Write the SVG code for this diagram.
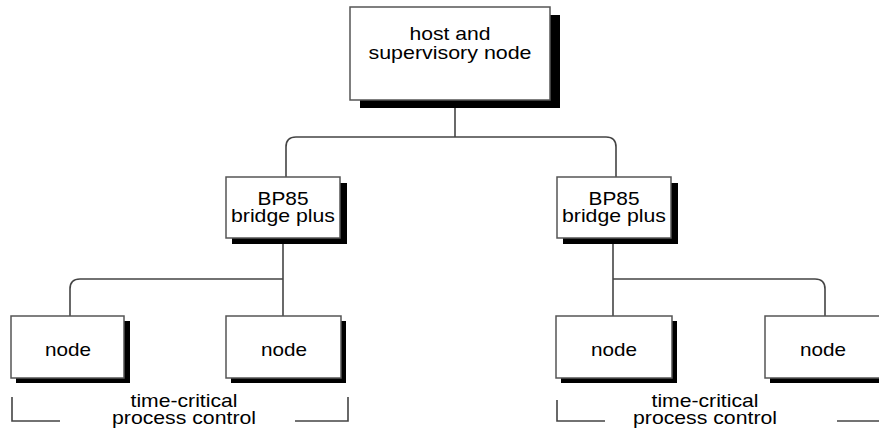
<svg xmlns="http://www.w3.org/2000/svg" width="879" height="430" viewBox="0 0 879 430">
<style>
.box{fill:#fff;stroke:#555;stroke-width:1.5}
.sh{fill:#000}
.ln{fill:none;stroke:#444;stroke-width:1.6}
text{font-family:"Liberation Sans",Arial,sans-serif;font-size:18.5px;fill:#000;text-anchor:middle}
</style>
<rect width="879" height="430" fill="#fff"/>
<g id="connectors">
<path class="ln" d="M455,108 V137"/>
<path class="ln" d="M296,137 H606 Q616,137 616,147 V177"/>
<path class="ln" d="M296,137 Q286,137 286,147 V177"/>
<path class="ln" d="M283,243 V316"/>
<path class="ln" d="M283,279 H80 Q70,279 70,289 V316"/>
<path class="ln" d="M613,243 V316"/>
<path class="ln" d="M613,279 H815 Q825,279 825,289 V316"/>
</g>
<g id="host">
<rect class="sh" x="360" y="15" width="200" height="93"/>
<rect class="box" x="350" y="7" width="200" height="93"/>
<text x="450" y="40" textLength="81" lengthAdjust="spacingAndGlyphs">host and</text>
<text x="450" y="59" textLength="163" lengthAdjust="spacingAndGlyphs">supervisory node</text>
</g>
<g id="bp85-left">
<rect class="sh" x="232" y="183" width="115" height="61"/>
<rect class="box" x="226" y="177" width="114" height="61"/>
<text x="283" y="205" textLength="51" lengthAdjust="spacingAndGlyphs">BP85</text>
<text x="283" y="222" textLength="104" lengthAdjust="spacingAndGlyphs">bridge plus</text>
</g>
<g id="bp85-right">
<rect class="sh" x="563" y="183" width="115" height="61"/>
<rect class="box" x="557" y="177" width="114" height="61"/>
<text x="614" y="205" textLength="51" lengthAdjust="spacingAndGlyphs">BP85</text>
<text x="614" y="222" textLength="104" lengthAdjust="spacingAndGlyphs">bridge plus</text>
</g>
<g id="node1">
<rect class="sh" x="16" y="321" width="114" height="62"/>
<rect class="box" x="11" y="316" width="113" height="62"/>
<text x="68" y="356" textLength="46" lengthAdjust="spacingAndGlyphs">node</text>
</g>
<g id="node2">
<rect class="sh" x="231" y="321" width="115" height="62"/>
<rect class="box" x="226" y="316" width="115" height="62"/>
<text x="284" y="356" textLength="46" lengthAdjust="spacingAndGlyphs">node</text>
</g>
<g id="node3">
<rect class="sh" x="561" y="321" width="116" height="62"/>
<rect class="box" x="556" y="316" width="116" height="62"/>
<text x="614" y="356" textLength="46" lengthAdjust="spacingAndGlyphs">node</text>
</g>
<g id="node4">
<rect class="sh" x="770" y="321" width="116" height="62"/>
<rect class="box" x="765" y="316" width="116" height="62"/>
<text x="823" y="356" textLength="46" lengthAdjust="spacingAndGlyphs">node</text>
</g>
<g id="group-left">
<path class="ln" d="M12,397 V421 H60"/>
<path class="ln" d="M348,397 V421 H295"/>
<text x="184" y="407" textLength="107" lengthAdjust="spacingAndGlyphs">time-critical</text>
<text x="184" y="424" textLength="144" lengthAdjust="spacingAndGlyphs">process control</text>
</g>
<g id="group-right">
<path class="ln" d="M557,400 V421 H605"/>
<path class="ln" d="M837,421 H880"/>
<text x="705" y="407" textLength="107" lengthAdjust="spacingAndGlyphs">time-critical</text>
<text x="705" y="424" textLength="144" lengthAdjust="spacingAndGlyphs">process control</text>
</g>
</svg>
